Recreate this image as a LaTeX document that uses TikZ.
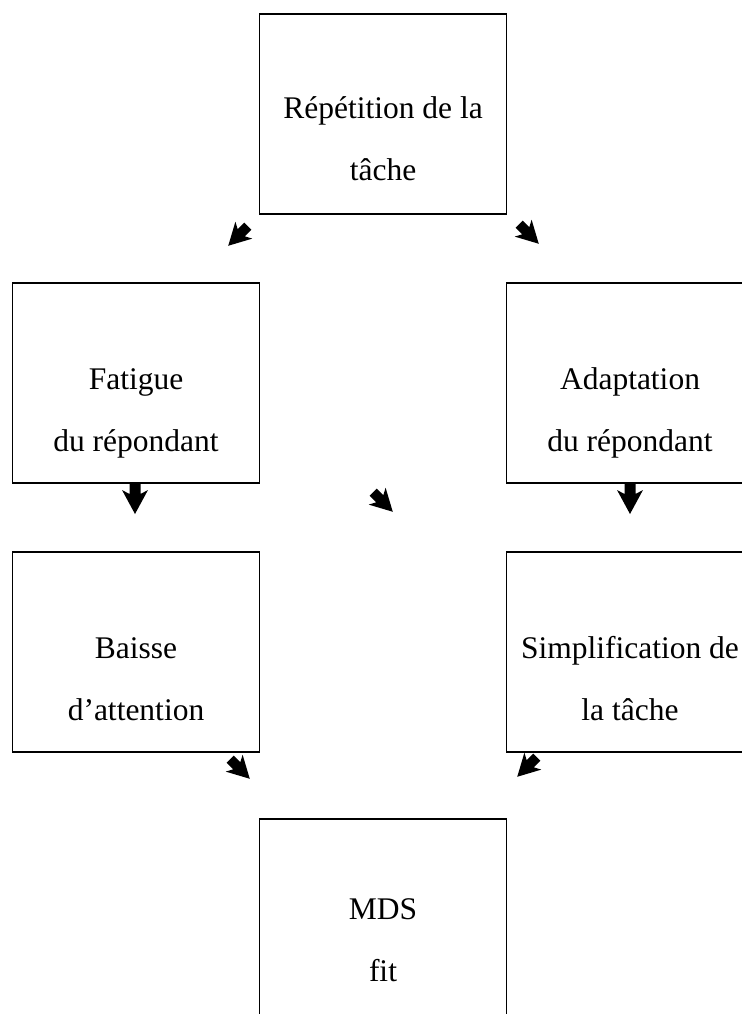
\documentclass[tikz,border=0pt]{standalone}
\usepackage{fontspec}
\setmainfont{Liberation Serif}
\usepackage{tikz}
\usetikzlibrary{calc, positioning}
\tikzstyle{Box}=[rectangle, draw, line width=1.2pt, inner sep=0pt, minimum width=6.175cm, minimum height=5cm]
\tikzstyle{Label}=[align=center, anchor=base, inner sep=0pt, font={\fontsize{22.4}{44}\selectfont}]
\tikzset{Arrow/.pic={\fill (-5.5,-15) -- (5.5,-15) -- (5.5,-5) -- (13,-9) -- (0,15) -- (-13,-9) -- (-5.5,-5) -- cycle;}}

\begin{document}
\begin{tikzpicture}[x=0.025cm, y=-0.025cm]
	\useasboundingbox (0,0) rectangle (742,1014);
	\clip (0,0) rectangle (742,1014);
	\node[Box] (rep) at (383,114) {};
	\node[Box] (fat) at (136,383) {};
	\node[Box] (ada) at (630,383) {};
	\node[Box] (bai) at (136,652) {};
	\node[Box] (sim) at (630,652) {};
	\node[Box] (mds) at (383,919) {};

	\node[Label] (t1) at ($(rep.center)+(0,66)$) {Répétition de la\\tâche};
	\node[Label] (t2) at ($(fat.center)+(0,68)$) {Fatigue\\du répondant};
	\node[Label] (t3) at ($(ada.center)+(0,68)$) {Adaptation\\du répondant};
	\node[Label] (t4) at ($(bai.center)+(0,68)$) {Baisse\\d’attention};
	\node[Label] (t5) at ($(sim.center)+(0,68)$) {Simplification de\\la tâche};
	\node[Label] (t6) at ($(mds.center)+(0,62)$) {MDS\\fit};

	\pic[rotate=-45, scale=0.92] at (238,236) {Arrow};
	\pic[rotate=45, scale=0.92] at (529,234) {Arrow};
	\pic at (135,499) {Arrow};
	\pic[rotate=45, scale=0.92] at (383,502) {Arrow};
	\pic at (630,499) {Arrow};
	\pic[rotate=45, scale=0.92] at (240,769) {Arrow};
	\pic[rotate=-45, scale=0.92] at (527,767) {Arrow};
\end{tikzpicture}
\end{document}
